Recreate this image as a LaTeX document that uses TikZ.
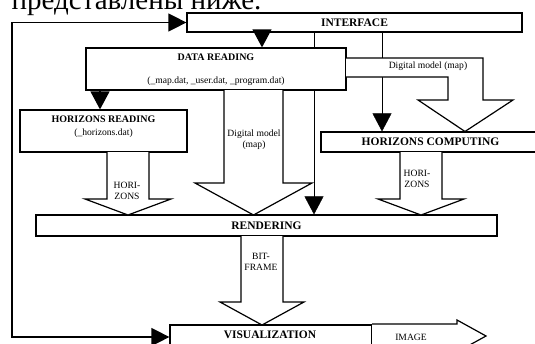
\documentclass[tikz,border=0pt]{standalone}
\usepackage{fontspec}
\setmainfont{Liberation Serif}
\usetikzlibrary{arrows.meta,backgrounds}
\begin{document}
\begin{tikzpicture}[x=1pt,y=-1pt,line width=1.2pt,
  box/.style={draw,fill=white,inner sep=0pt},
  big/.style={font=\fontsize{11.5}{13}\selectfont\bfseries},
  mid/.style={font=\fontsize{10}{12}\selectfont\bfseries},
  small/.style={font=\fontsize{9.6}{11}\selectfont,inner sep=0pt,align=center},
  arr/.style={-{Triangle[length=18pt,width=19pt]}},
  fat/.style={draw,fill=white,line join=miter}]
\clip (0,0) rectangle (535,343);
\useasboundingbox (0,0) rectangle (535,343);
% cut-off heading
\node[anchor=base west,inner sep=0pt,font=\fontsize{29}{30}\selectfont] (head) at (11,9) {представлены ниже.};
% boxes
\node[box,big,minimum width=335pt,minimum height=19pt] (iface) at (354.5,22.5) {INTERFACE};
\node[box,minimum width=260pt,minimum height=42pt] (dread) at (216,69) {};
\node[mid,inner sep=0pt] (dreadT) at (216,57) {DATA READING};
\node[small] (dreadS) at (216,81.5) {(\_map.dat, \_user.dat, \_program.dat)};
\node[box,minimum width=167pt,minimum height=42pt] (hread) at (103.5,131) {};
\node[mid,inner sep=0pt] (hreadT) at (103.5,119) {HORIZONS READING};
\node[small] (hreadS) at (103.5,133) {(\_horizons.dat)};
\node[box,big,minimum width=219pt,minimum height=20pt] (hcomp) at (430.5,142) {HORIZONS COMPUTING};
\node[box,big,minimum width=461pt,minimum height=21pt] (rend) at (266.5,225.5) {RENDERING};
\node[box,big,minimum width=202pt,minimum height=24pt] (vis) at (271,337) {};
\node[big,inner sep=0pt] (visT) at (270,335) {VISUALIZATION};
% x positions of thin connectors
\coordinate (xa) at (262,0);
\coordinate (xb) at (314,0);
\coordinate (xc) at (382,0);
\coordinate (xd) at (100,0);
\coordinate (xf) at (12,0);
\begin{scope}[on background layer]
  \draw[arr] (iface.south -| xb) -- (rend.north -| xb);
  \draw[arr] (iface.south -| xc) -- (hcomp.north -| xc);
\end{scope}
\draw[arr] (iface.south -| xa) -- (dread.north -| xa);
\draw[arr] (dread.south -| xd) -- (hread.north -| xd);
\draw[{Triangle[length=18pt,width=18pt]}-{Triangle[length=18pt,width=18pt]}]
  (iface.west) -- (iface.west -| xf) |- (vis.west);
% wide arrows
\draw[fat] (346,58) -- (483,58) -- (483,100) -- (513,100) -- (465,131.5)
  -- (418,100) -- (448,100) -- (448,77) -- (346,77);
\node[small] (dm1) at (428,66.5) {Digital model (map)};
\draw[fat] (224,90) -- (224,183) -- (195,183) -- (253.5,215) -- (312,183) -- (283,183) -- (283,90);
\node[small] (dm2) at (254,140) {Digital model\\(map)};
\draw[fat] (107,152) -- (107,199) -- (85,199) -- (128,215) -- (171,199) -- (149,199) -- (149,152);
\node[small] (hz1) at (127,191) {HORI-\\ZONS};
\draw[fat] (400,152) -- (400,199) -- (378,199) -- (421,215) -- (464,199) -- (442,199) -- (442,152);
\node[small] (hz2) at (417,178.5) {HORI-\\ZONS};
\draw[fat] (241,236) -- (241,302) -- (220,302) -- (262,325) -- (304,302) -- (283,302) -- (283,236);
\node[small] (bf) at (261,262) {BIT-\\FRAME};
\draw[fat] (372,324) -- (457,324) -- (457,320) -- (486,336) -- (457,352) -- (457,348) -- (372,348);
\node[small] (img) at (411,337.5) {IMAGE};
\end{tikzpicture}
\end{document}
